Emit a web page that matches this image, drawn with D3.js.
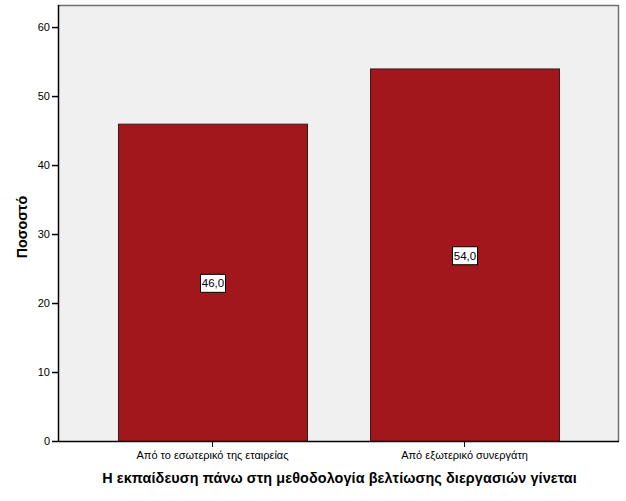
<!DOCTYPE html>
<html><head><meta charset="utf-8">
<script src="https://cdn.jsdelivr.net/npm/d3@7"></script>
<style>body{margin:0;background:#fff}svg{display:block}</style>
</head><body>
<svg id="c" width="626" height="501"></svg>
<script>
const categories = ["Από το εσωτερικό της εταιρείας", "Από εξωτερικό συνεργάτη"];
const values = [46.0, 54.0];
const yTicks = [0, 10, 20, 30, 40, 50, 60];
const yTitle = "Ποσοστό";
const xTitle = "Η εκπαίδευση πάνω στη μεθοδολογία βελτίωσης διεργασιών γίνεται";

const svg = d3.select("#c");
const L = 58, R = 619, T = 5, B = 441;
const font = "Arial, 'Liberation Sans', sans-serif";

const y = d3.scaleLinear().domain([0, 63.2]).range([B, T]);
const x = d3.scaleBand().domain(categories).range([L, R]).paddingInner(0.25).paddingOuter(0.238);

svg.append("rect").attr("x", L).attr("y", T).attr("width", R - L).attr("height", B - T).attr("fill", "#f0f0f0");
svg.append("line").attr("x1", L).attr("x2", R).attr("y1", T + 0.5).attr("y2", T + 0.5).attr("stroke", "#707070").attr("stroke-width", 1.5);
svg.append("line").attr("x1", R - 0.5).attr("x2", R - 0.5).attr("y1", T).attr("y2", B).attr("stroke", "#707070").attr("stroke-width", 1.5);

svg.selectAll("rect.bar").data(values).enter().append("rect").attr("class", "bar")
  .attr("x", (d, i) => x(categories[i]) + 0.5)
  .attr("y", d => y(d) + 0.5)
  .attr("width", x.bandwidth())
  .attr("height", d => B - y(d))
  .attr("fill", "#a2171b")
  .attr("stroke", "#3a1a1a").attr("stroke-width", 1);

const yAxis = d3.axisLeft(y).tickValues(yTicks).tickSize(6).tickPadding(2).tickFormat(d3.format("d"));
const gy = svg.append("g").attr("transform", `translate(${L},0)`).call(yAxis);
gy.select(".domain").attr("stroke", "#000").attr("stroke-width", 1.5).attr("d", `M0.5,${T}V${B}`);
gy.selectAll(".tick line").attr("stroke", "#000").attr("stroke-width", 1.5);
gy.selectAll(".tick text").attr("font-family", font).attr("font-size", 11).attr("fill", "#000");

const xAxis = d3.axisBottom(x).tickSize(6).tickPadding(4);
const gx = svg.append("g").attr("transform", `translate(0,${B})`).call(xAxis);
gx.select(".domain").attr("stroke", "#000").attr("stroke-width", 1.5).attr("d", `M${L},0.5H${R}`);
gx.selectAll(".tick line").attr("stroke", "#000").attr("stroke-width", 1);
gx.selectAll(".tick text").attr("font-family", font).attr("font-size", 11).attr("fill", "#000");

const lab = svg.selectAll("g.lab").data(values).enter().append("g").attr("class", "lab")
  .attr("transform", (d, i) => `translate(${x(categories[i]) + x.bandwidth() / 2 + 0.5},${y(d / 2) + 1})`);
lab.append("rect").attr("x", -12.5).attr("y", -9).attr("width", 25).attr("height", 18)
  .attr("fill", "#fff").attr("stroke", "#000").attr("stroke-width", 1);
lab.append("text").text(d => d.toFixed(1).replace(".", ","))
  .attr("text-anchor", "middle").attr("dy", "0.36em")
  .attr("font-family", font).attr("font-size", 11.5).attr("fill", "#000");

svg.append("text").text(yTitle)
  .attr("transform", `translate(27,${(T + B) / 2 + 4}) rotate(-90)`)
  .attr("text-anchor", "middle").attr("font-family", font).attr("font-size", 14.3).attr("font-weight", "bold");
svg.append("text").text(xTitle)
  .attr("x", (L + R) / 2 + 1).attr("y", 483)
  .attr("text-anchor", "middle").attr("font-family", font).attr("font-size", 14.4).attr("font-weight", "bold")
  .attr("letter-spacing", 0.1);
</script>
</body></html>
